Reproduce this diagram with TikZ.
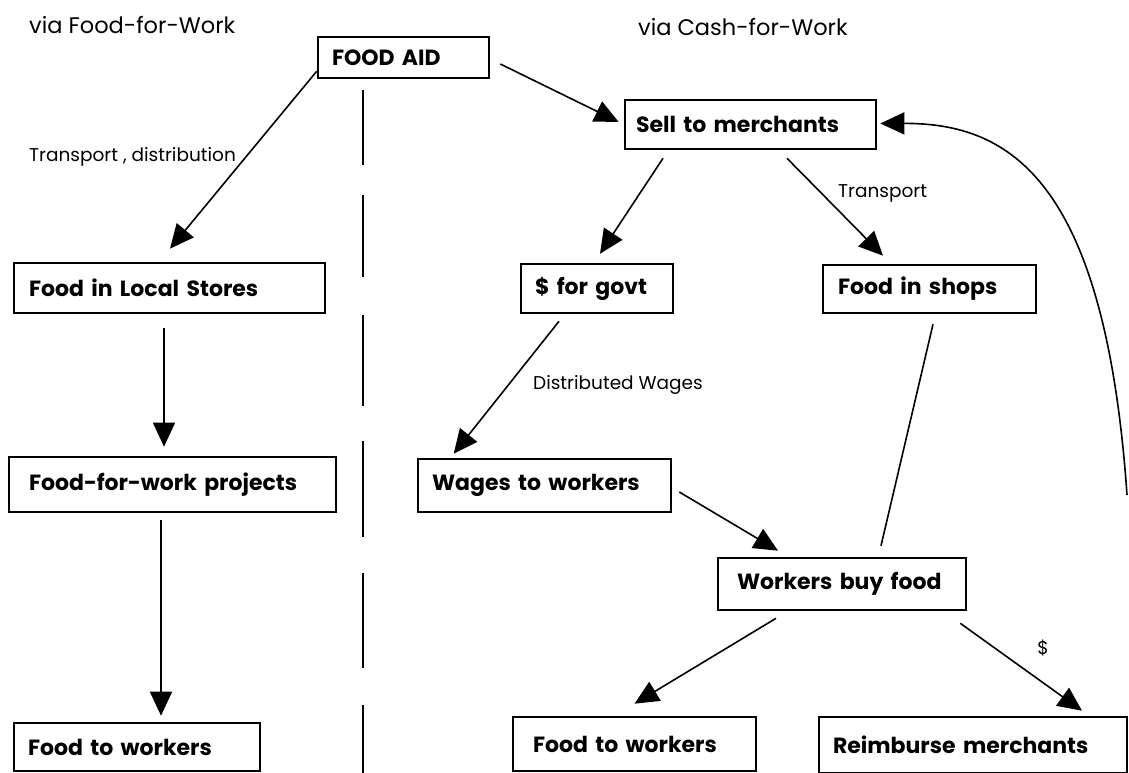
\documentclass[tikz,border=0pt]{standalone}
\usepackage{fontspec}
\setmainfont{Poppins}
\usetikzlibrary{arrows.meta,calc}
\tikzset{
  box/.style={draw, line width=2.6pt, rectangle, inner xsep=0pt, inner ysep=0pt,
    font=\fontsize{22}{24}\selectfont\bfseries, align=left},
  lbl/.style={inner sep=0pt, font=\fontsize{18.5}{20}\selectfont},
  ttl/.style={inner sep=0pt, font=\fontsize{22.5}{24}\selectfont},
  arr/.style={line width=1.6pt, -{Triangle[length=24pt,width=22pt]}},
  plain/.style={line width=1.6pt},
  divider/.style={line width=1.8pt}
}
\newcommand{\bx}[7]{% name, x1, y1, x2, y2, text inset, text
  \node[box, minimum width={#4-#2}, minimum height={#5-#3}, text width={#4-#2-2*#6}]
    (#1) at ({(#2+#4)/2},{(#3+#5)/2}) {#7};}
\begin{document}
\begin{tikzpicture}[x=1pt,y=-1pt]
\useasboundingbox (0,0) rectangle (1129,773);
% titles
\node[ttl, anchor=west] (t1) at (29,25) {via Food-for-Work};
\node[ttl, anchor=west] (t2) at (638,27) {via Cash-for-Work};
% boxes
\bx{foodaid}{318}{37}{489}{78}{14}{FOOD AID}
\bx{sell}{625}{100}{876}{149}{11}{Sell to merchants}
\bx{ls}{14}{263}{325}{313}{15}{Food in Local Stores}
\bx{govt}{521}{264}{673}{313}{14}{\$ for govt}
\bx{shops}{823}{265}{1036}{313}{15}{Food in shops}
\bx{ffw}{9}{457}{336}{512}{20}{Food-for-work projects}
\bx{wages}{418}{459}{671}{512}{14}{Wages to workers}
\bx{wbf}{718}{558}{966}{610}{19}{Workers buy food}
\bx{ftwL}{14}{723}{260}{771}{14}{Food to workers}
\bx{ftwR}{513}{717}{756}{771}{20}{Food to workers}
\bx{reim}{819}{717}{1127}{773}{14}{Reimburse merchants}
% divider
\foreach \a/\b in {90/165,195/277,315/406,441/537,573/668,705/773}
  \draw[divider] (363,\a) -- (363,\b);
% labels
\node[lbl, anchor=west] (l1) at (29,157) {Transport , distribution};
\node[lbl, anchor=west] (l2) at (838,193) {Transport};
\node[lbl, anchor=west] (l3) at (533,385) {Distributed Wages};
\node[lbl] (l4) at (1043,648) {\$};
% connectors
\draw[arr] ($(foodaid.south west)+(0,-8)$) -- ($(ls.north)+(0.5,-13)$);
\draw[arr] ($(foodaid.east)+(10,6.5)$) -- ($(sell.west)+(-5,-2.5)$);
\draw[arr] ($(ls.south)+(-5.5,14)$) -- ($(ffw.north)+(-8.5,-9)$);
\draw[arr] ($(ffw.south)+(-11.5,7)$) -- ($(ftwL.north)+(24,-6)$);
\draw[arr] ($(sell.south)+(-87.5,8)$) -- ($(govt.north)+(3,-9)$);
\draw[arr] ($(sell.south)+(36.5,8)$) -- ($(shops.north)+(-46.5,-8)$);
\draw[arr] ($(govt.south)+(-38,7)$) -- ($(wages.north west)+(37,-4)$);
\draw[arr] ($(wages.east)+(7,6.5)$) -- ($(wbf.north)+(-64,-6)$);
\draw[plain] ($(shops.south)+(3.5,10)$) -- ($(wbf.north)+(39,-11)$);
\draw[arr] ($(wbf.south)+(-66,7)$) -- ($(ftwR.north)+(0,-12)$);
\draw[arr] ($(wbf.south east)+(-7,12)$) -- ($(reim.north)+(109,-5)$);
\coordinate (loopend) at (1127,495);
\draw[arr] (loopend) .. controls (1105,180) and (1010,123) .. ($(sell.east)+(3,-1)$);
\end{tikzpicture}
\end{document}
